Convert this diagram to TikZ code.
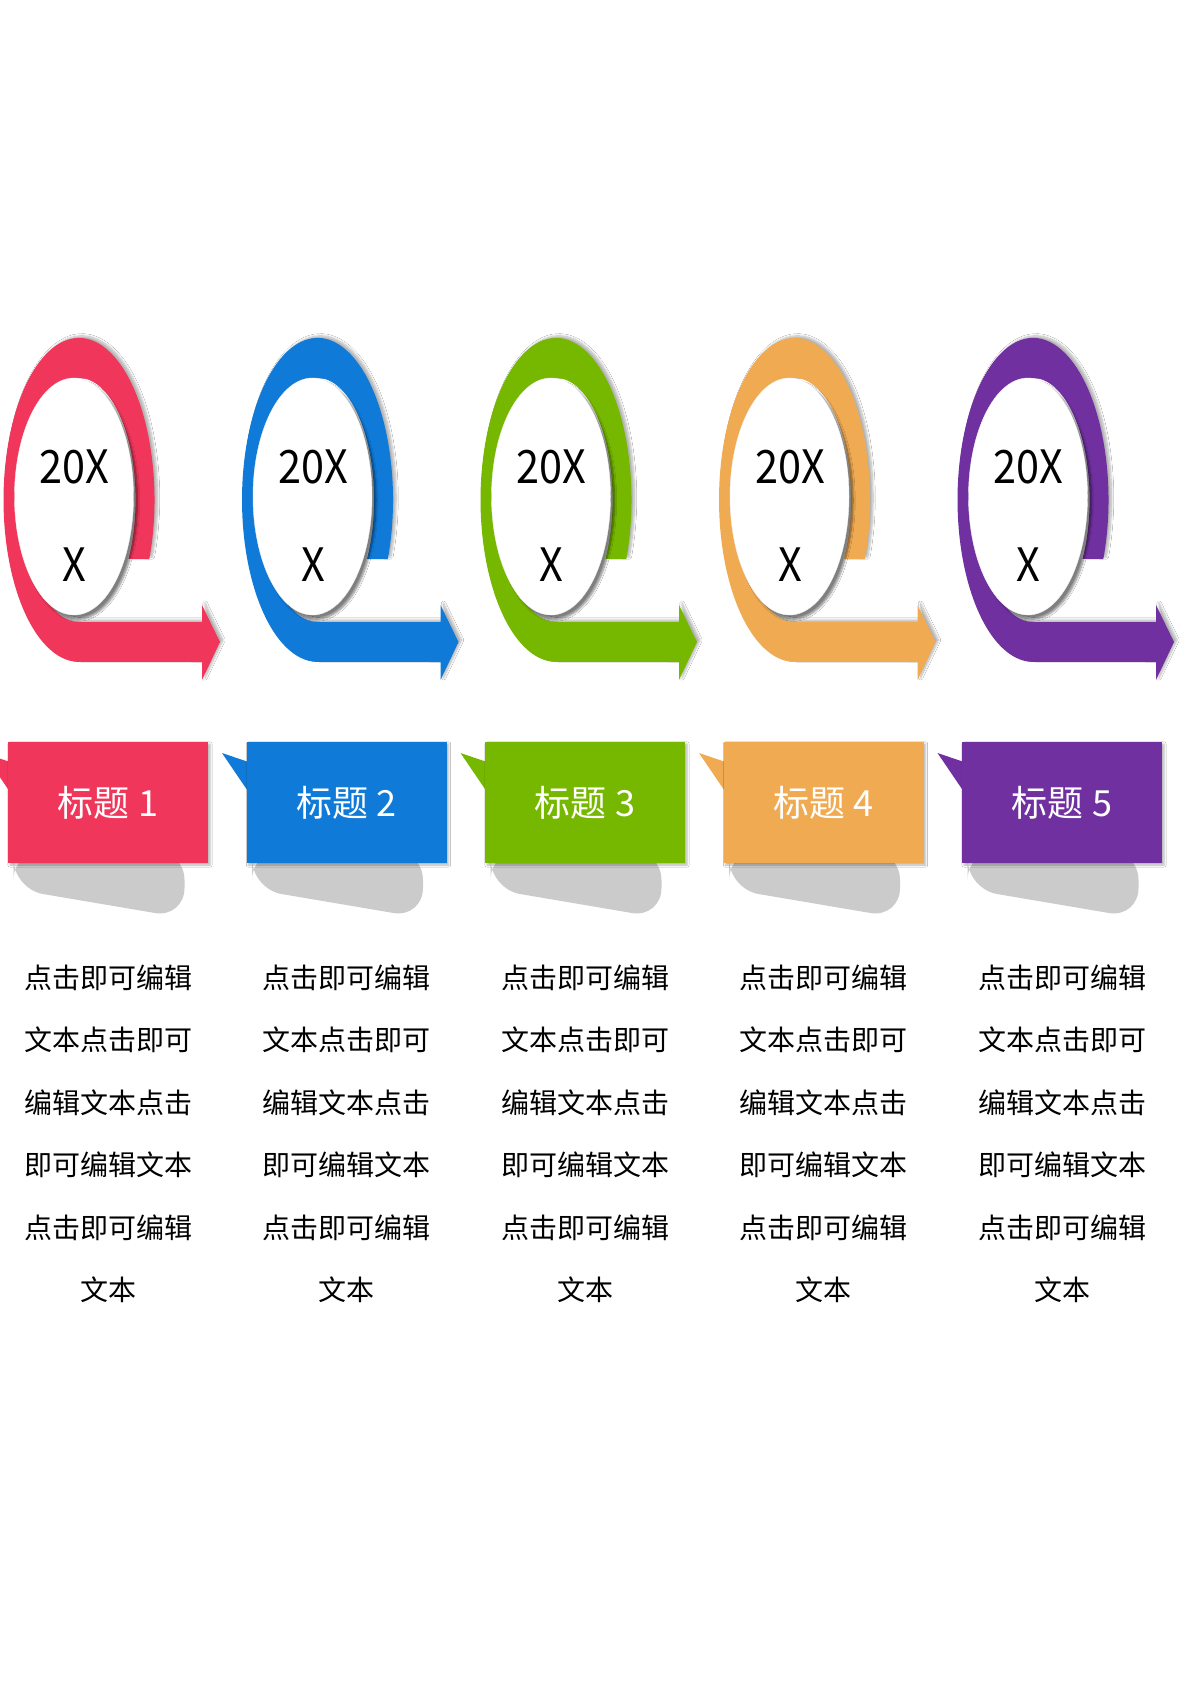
\documentclass[tikz,border=0pt]{standalone}
\usepackage{fontspec}
\setmainfont{Noto Sans CJK SC}
\usetikzlibrary{shapes.geometric, shadows.blur}
\definecolor{colA}{HTML}{F0365A}
\definecolor{colB}{HTML}{0F7AD8}
\definecolor{colC}{HTML}{76B800}
\definecolor{colD}{HTML}{F0AA52}
\definecolor{colE}{HTML}{7030A0}
\definecolor{boxgray}{HTML}{CBCBCB}
\tikzset{
	ringshadow/.style={blur shadow={shadow xshift=3pt, shadow yshift=2pt, shadow opacity=30, shadow blur steps=8}},
	yearoval/.style={ellipse, fill=white, draw=black!6, minimum width=119pt, minimum height=237pt, inner sep=0pt, blur shadow={shadow xshift=4pt, shadow yshift=-4pt, shadow opacity=50, shadow blur steps=8}},
	yeartext/.style={font=\fontsize{46}{98}\selectfont, align=center, xscale=0.9},
	titlebox/.style={rectangle, fill=#1, minimum width=200pt, minimum height=121pt, text=white, font=\fontsize{36}{40}\selectfont, blur shadow={shadow xshift=2pt, shadow yshift=-2pt, shadow opacity=30, shadow blur steps=4}},
	bodytext/.style={font=\fontsize{28}{62.5}\selectfont, align=center}
}

\begin{document}
\begin{tikzpicture}[x=1pt, y=-1pt]
	\useasboundingbox[fill=white] (0,0) rectangle (1191,1684);
	\foreach \i/\col in {1/colA, 2/colB, 3/colC, 4/colD, 5/colE}
	{
		\begin{scope}[xshift={(\i-1)*238.5pt}]
			\fill[\col, ringshadow] (149.3,559) arc[start angle=21.4, end angle=-270, x radius=75.5, y radius=162] -- (202,662) -- (202,680) -- (220,642) -- (202,605) -- (202,622) -- (79,622) arc[start angle=-270, end angle=28.9, x radius=56.6, y radius=122] -- cycle;
			\node[yearoval] (oval\i) at (74,496.5) {};
			\node[yeartext] (year\i) at (74.5,516) {20X\\X};
			\fill[boxgray, rounded corners=30pt] (13.5,850) -- (13.5,889) -- (184.5,918) -- (184.5,850) -- cycle;
			\fill[\col] (-16.5,753) -- (10,762) -- (10,792) -- cycle;
			\node[titlebox=\col] (title\i) at (108,802.5) {标题 \i};
			\node[bodytext] (body\i) at (108,1134) {点击即可编辑\\文本点击即可\\编辑文本点击\\即可编辑文本\\点击即可编辑\\文本};
		\end{scope}
	}
\end{tikzpicture}
\end{document}
